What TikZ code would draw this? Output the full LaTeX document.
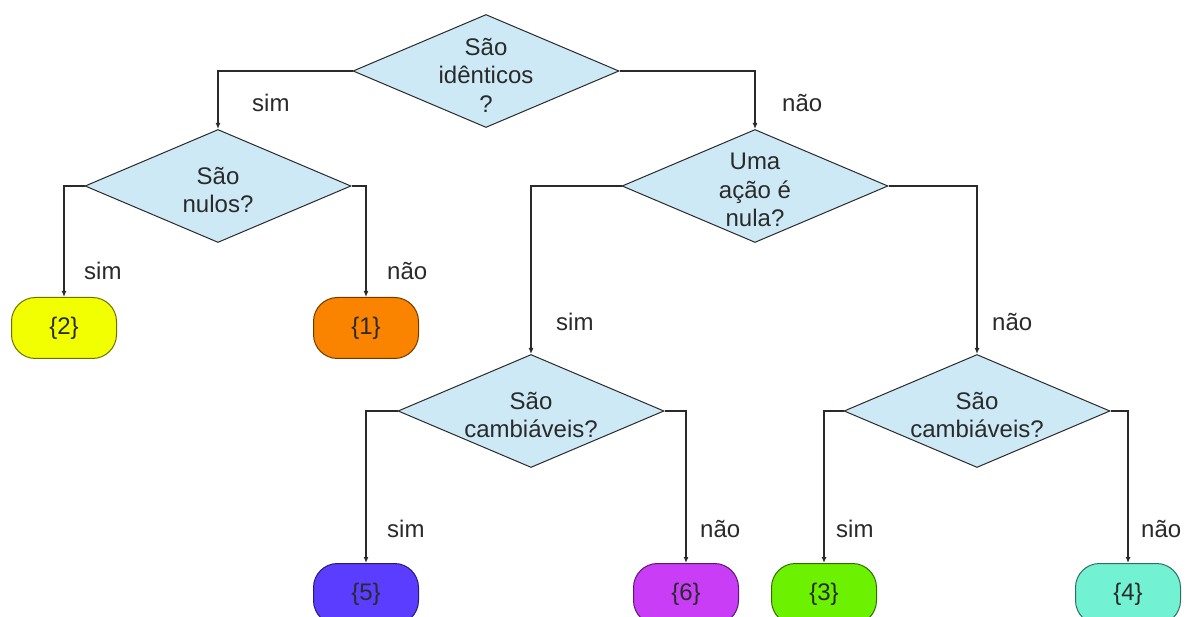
\documentclass[tikz,border=0pt]{standalone}
\usepackage{fontspec}
\setmainfont{Liberation Sans}
\usepackage{xcolor}
\usetikzlibrary{positioning,shapes.geometric,arrows.meta}
\definecolor{qblue}{HTML}{CDE9F5}
\definecolor{inkgray}{HTML}{2A2A2A}
\definecolor{cyellow}{HTML}{F2FF00}
\definecolor{corange}{HTML}{FA8300}
\definecolor{cblue}{HTML}{5A3DFF}
\definecolor{cpurple}{HTML}{C83DF5}
\definecolor{cgreen}{HTML}{6CF200}
\definecolor{caqua}{HTML}{72F2D2}
\tikzset{
  decision/.style={diamond, draw=inkgray, line width=1pt, fill=qblue,
    minimum width=266pt, minimum height=113pt, inner sep=0pt},
  qtext/.style={align=center, text=inkgray, yshift=-4pt,
    font=\fontsize{24}{28.5}\selectfont},
  result/.style={rectangle, rounded corners=24pt,
    draw=#1!45!black, line width=1pt, fill=#1, text=inkgray,
    minimum width=105pt, minimum height=61pt, inner sep=0pt},
  answer/.style={anchor=base west, text=inkgray, inner sep=0pt},
  flow/.style={draw=inkgray, line width=1.2pt, -{Latex[length=6pt,width=5pt]}}
}
\begin{document}
\begin{tikzpicture}[x=1pt,y=-1pt,font=\fontsize{24}{28.5}\selectfont]
  \useasboundingbox (0,0) rectangle (1191,617);
  \clip (0,0) rectangle (1191,617);
  \fill[white] (0,0) rectangle (1191,617);

  % decisions
  \node[decision, label={[qtext]center:São\\idênticos\\?}] (ident) at (486,71) {};
  \node[decision, label={[qtext]center:São\\nulos?}] (nulos) at (218,186) {};
  \node[decision, label={[qtext]center:Uma\\ação é\\nula?}] (nula) at (755,186) {};
  \node[decision, label={[qtext]center:São\\cambiáveis?}] (camb1) at (531,411) {};
  \node[decision, label={[qtext]center:São\\cambiáveis?}] (camb2) at (977,411) {};

  % results
  \node[result=cyellow] (r2) at (64,328) {\{2\}};
  \node[result=corange] (r1) at (366,328) {\{1\}};
  \node[result=cblue] (r5) at (366,594) {\{5\}};
  \node[result=cpurple] (r6) at (686,594) {\{6\}};
  \node[result=cgreen] (r3) at (824,594) {\{3\}};
  \node[result=caqua] (r4) at (1128,594) {\{4\}};

  % connectors
  \draw[flow] (ident.west) -| (nulos.north);
  \draw[flow] (ident.east) -| (nula.north);
  \draw[flow] (nulos.west) -| (r2.north);
  \draw[flow] (nulos.east) -| (r1.north);
  \draw[flow] (nula.west) -| (camb1.north);
  \draw[flow] (nula.east) -| (camb2.north);
  \draw[flow] (camb1.west) -| (r5.north);
  \draw[flow] (camb1.east) -| (r6.north);
  \draw[flow] (camb2.west) -| (r3.north);
  \draw[flow] (camb2.east) -| (r4.north);

  % answers
  \node[answer] (a1) at (252,112) {sim};
  \node[answer] (a2) at (782,112) {não};
  \node[answer] (a3) at (84,280) {sim};
  \node[answer] (a4) at (387,280) {não};
  \node[answer] (a5) at (556,331) {sim};
  \node[answer] (a6) at (992,331) {não};
  \node[answer] (a7) at (387,537) {sim};
  \node[answer] (a8) at (700,537) {não};
  \node[answer] (a9) at (836,537) {sim};
  \node[answer] (a10) at (1141,537) {não};
\end{tikzpicture}
\end{document}
